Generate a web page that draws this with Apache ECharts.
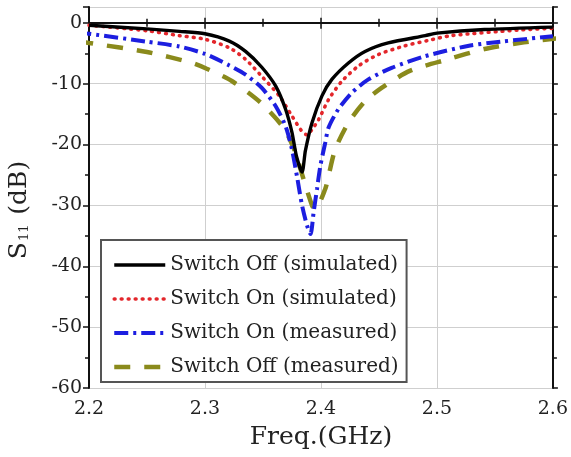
<!DOCTYPE html>
<html>
<head>
<meta charset="utf-8">
<script src="https://cdn.jsdelivr.net/npm/echarts@6/dist/echarts.min.js"></script>
<style>html,body{margin:0;padding:0;background:#fff}#c{width:571px;height:457px}</style>
</head>
<body>
<div id="c"></div>
<script>
var seriesNames = ['Switch Off (simulated)', 'Switch On (simulated)', 'Switch On (measured)', 'Switch Off (measured)'];

var offSimFreq = [2.20, 2.25, 2.278, 2.30, 2.321, 2.335, 2.349, 2.361, 2.3695, 2.375, 2.379, 2.3837, 2.3866, 2.3923, 2.4009, 2.4094, 2.4237, 2.438, 2.458, 2.49, 2.50, 2.541, 2.60];
var offSimS11  = [-0.4, -1.0, -1.4, -1.8, -3.0, -4.7, -7.3, -10.4, -14.2, -18.0, -22.0, -24.5, -21.0, -16.4, -12.0, -9.3, -6.6, -4.7, -3.3, -2.1, -1.7, -1.1, -0.7];

var onSimFreq = [2.20, 2.25, 2.278, 2.30, 2.321, 2.335, 2.349, 2.364, 2.375, 2.3835, 2.388, 2.392, 2.398, 2.4066, 2.418, 2.4323, 2.4495, 2.472, 2.4923, 2.5123, 2.5695, 2.60];
var onSimS11  = [-0.4, -1.3, -2.1, -2.7, -4.1, -6.0, -8.8, -12.0, -15.3, -17.8, -18.4, -17.6, -15.9, -12.6, -9.6, -7.1, -5.2, -3.8, -2.9, -2.1, -1.2, -0.9];

var onMeasFreq = [2.19, 2.20, 2.25, 2.278, 2.30, 2.321, 2.335, 2.349, 2.361, 2.3695, 2.375, 2.3795, 2.3837, 2.388, 2.391, 2.3937, 2.3966, 2.3995, 2.4037, 2.4066, 2.415, 2.4266, 2.4409, 2.461, 2.4895, 2.5266, 2.555, 2.60];
var onMeasS11  = [-1.6, -1.8, -3.1, -3.9, -5.1, -7.0, -8.5, -10.7, -13.7, -17.0, -20.8, -25.4, -30.0, -33.3, -34.7, -31.1, -27.3, -23.5, -19.7, -17.2, -14.2, -11.5, -9.3, -7.4, -5.5, -3.8, -3.1, -2.2];

var offMeasFreq = [2.19, 2.20, 2.25, 2.289, 2.301, 2.3235, 2.348, 2.368, 2.378, 2.3823, 2.3923, 2.395, 2.4037, 2.4066, 2.4123, 2.4237, 2.438, 2.4523, 2.4766, 2.5095, 2.541, 2.575, 2.6066];
var offMeasS11  = [-3.0, -3.3, -4.8, -6.6, -7.5, -9.6, -13.1, -17.3, -21.3, -24.0, -30.0, -30.6, -27.3, -25.1, -20.8, -16.4, -12.9, -10.7, -7.9, -6.0, -4.3, -3.2, -2.5];

var xTicks = [2.2, 2.3, 2.4, 2.5, 2.6];
var yTicks = [-60, -50, -40, -30, -20, -10, 0];

function pairs(xs, ys) { return xs.map(function (x, i) { return [x, ys[i]]; }); }

var FONT = 'DejaVu Serif';
var chart = echarts.init(document.getElementById('c'), null, { renderer: 'canvas' });

var axisLine = { show: true, lineStyle: { color: '#111', width: 2 } };
var minorTick = { show: true, splitNumber: 2, length: 4, lineStyle: { color: '#111', width: 1.5 } };

chart.setOption({
  animation: false,
  backgroundColor: '#fff',
  grid: { left: 89, right: 16, top: 7, bottom: 69, containLabel: false },
  xAxis: [{
    type: 'value', min: 2.2, max: 2.6, interval: 0.1, position: 'bottom',
    axisLine: axisLine,
    axisTick: { show: true, inside: false, length: 6, lineStyle: { color: '#111', width: 1.5 } },
    minorTick: minorTick,
    splitLine: { show: true, lineStyle: { color: '#cfcfcf', width: 1 } },
    axisLabel: {
      margin: 12, fontFamily: FONT, fontSize: 19, color: '#222',
      formatter: function (v) {
        for (var i = 0; i < xTicks.length; i++) if (Math.abs(v - xTicks[i]) < 1e-6) return xTicks[i].toFixed(1);
        return '';
      }
    },
    name: 'Freq.(GHz)', nameLocation: 'middle', nameGap: 37,
    nameTextStyle: { fontFamily: FONT, fontSize: 25, color: '#222' }
  }, {
    type: 'value', min: 2.2, max: 2.6, interval: 0.1, position: 'top',
    axisLine: axisLine,
    axisTick: { show: true, length: 5, lineStyle: { color: '#111', width: 1.5 } },
    minorTick: minorTick,
    splitLine: { show: false }, axisLabel: { show: false }
  }],
  yAxis: [{
    type: 'value', min: -60, max: 2.6, interval: 10, position: 'left',
    axisLine: axisLine,
    axisTick: { show: true, inside: false, length: 6, lineStyle: { color: '#111', width: 1.5 } },
    minorTick: minorTick,
    splitLine: { show: true, lineStyle: { color: '#cfcfcf', width: 1 } },
    axisLabel: {
      margin: 7, fontFamily: FONT, fontSize: 19, color: '#222', showMaxLabel: false,
      formatter: function (v) { return yTicks.indexOf(Math.round(v)) >= 0 && Math.abs(v - Math.round(v)) < 1e-6 ? String(Math.round(v)) : ''; }
    }
  }, {
    type: 'value', min: -60, max: 2.6, interval: 10, position: 'right',
    axisLine: axisLine,
    axisTick: { show: true, length: 5, lineStyle: { color: '#111', width: 1.5 } },
    minorTick: minorTick,
    splitLine: { show: false }, axisLabel: { show: false }
  }],
  legend: {
    orient: 'vertical', left: 101, top: 240,
    padding: [14, 8, 4, 11], itemGap: 12, itemWidth: 51, itemHeight: 14,
    backgroundColor: '#fff', borderColor: '#555', borderWidth: 2,
    itemStyle: { opacity: 0 },
    lineStyle: { width: 'inherit' },
    textStyle: { fontFamily: FONT, fontSize: 20, color: '#222', lineHeight: 22 },
    data: seriesNames
  },
  graphic: [{
    type: 'text', x: 19, y: 210, rotation: Math.PI / 2,
    style: {
      text: '{s|S}{sub|11}{s| (dB)}', align: 'center', verticalAlign: 'middle',
      rich: {
        s: { fontFamily: FONT, fontSize: 25, fill: '#222' },
        sub: { fontFamily: FONT, fontSize: 13, fill: '#222', padding: [12, 2, 0, 1] }
      }
    }
  }],
  series: [{
    name: seriesNames[0], type: 'line', data: pairs(offSimFreq, offSimS11),
    showSymbol: false, symbol: 'none', smooth: 0.25, z: 4,
    lineStyle: { color: '#000', width: 3.4, type: 'solid' }, itemStyle: { color: '#000' }
  }, {
    name: seriesNames[1], type: 'line', data: pairs(onSimFreq, onSimS11),
    showSymbol: false, symbol: 'none', smooth: 0.25, z: 3,
    lineStyle: { color: '#e3262b', width: 3.6, type: [0.8, 6.2], cap: 'round' }, itemStyle: { color: '#e3262b' }
  }, {
    name: seriesNames[2], type: 'line', data: pairs(onMeasFreq, onMeasS11),
    showSymbol: false, symbol: 'none', smooth: 0.25, clip: false, z: 3,
    lineStyle: { color: '#1c1ee0', width: 4, type: [14, 5, 3, 5] }, itemStyle: { color: '#1c1ee0' }
  }, {
    name: seriesNames[3], type: 'line', data: pairs(offMeasFreq, offMeasS11),
    showSymbol: false, symbol: 'none', smooth: 0.25, clip: false, z: 2,
    lineStyle: { color: '#8a8a1c', width: 4.5, type: [16, 14] }, itemStyle: { color: '#8a8a1c' }
  }]
});
</script>
</body>
</html>
